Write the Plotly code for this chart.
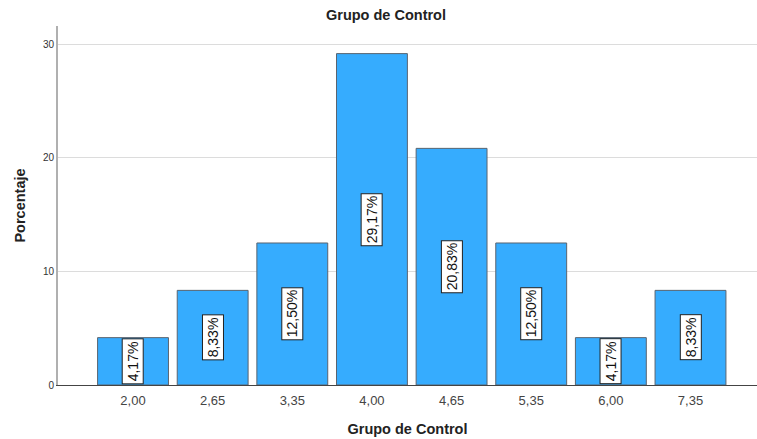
import plotly.graph_objects as go

categories = ["2,00", "2,65", "3,35", "4,00", "4,65", "5,35", "6,00", "7,35"]
percentages = [4.17, 8.33, 12.50, 29.17, 20.83, 12.50, 4.17, 8.33]
labels = ["4,17%", "8,33%", "12,50%", "29,17%", "20,83%", "12,50%", "4,17%", "8,33%"]
y_ticks = [0, 10, 20, 30]

FONT = "Liberation Sans, Arial"

fig = go.Figure()
fig.add_trace(go.Bar(
    x=list(range(len(categories))), y=percentages, width=0.89,
    marker=dict(color="#36acfe", line=dict(color="#5a6470", width=1)),
    hoverinfo="skip",
))

for i, (v, lab) in enumerate(zip(percentages, labels)):
    fig.add_annotation(
        x=i, y=v / 2, xref="x", yref="y", text=lab, showarrow=False,
        textangle=-90, font=dict(family=FONT, size=14, color="#111111"),
        bgcolor="white", bordercolor="#222222", borderwidth=1, borderpad=2,
    )

fig.update_layout(
    width=757, height=439,
    margin=dict(l=58, r=0, t=26, b=54, autoexpand=False),
    plot_bgcolor="white", paper_bgcolor="white",
    showlegend=False,
    title=dict(text="<b>Grupo de Control</b>", x=386 / 757, xanchor="center", xref="container",
               y=1 - 15 / 439, yref="container", yanchor="middle",
               font=dict(family=FONT, size=14.5, color="#222")),
    xaxis=dict(
        tickmode="array", tickvals=list(range(len(categories))), ticktext=categories,
        range=[-0.942, 7.835], showgrid=False, zeroline=False, automargin=False,
        showline=True, linecolor="#444444", linewidth=1, ticks="", ticklabelstandoff=3,
        tickfont=dict(family=FONT, size=13, color="#444"),
        title=dict(text="<b>Grupo de Control</b>", standoff=17,
                   font=dict(family=FONT, size=14.5, color="#222")),
    ),
    yaxis=dict(
        range=[0, 31.6], tickvals=y_ticks, showgrid=True, gridcolor="#dcdcdc", gridwidth=1,
        zeroline=False, showline=True, linecolor="#b0b0b0", linewidth=2, ticks="", automargin=False,
        tickfont=dict(family=FONT, size=10, color="#333"),
        title=dict(text="<b>Porcentaje</b>", standoff=14,
                   font=dict(family=FONT, size=14.5, color="#222")),
    ),
)
fig.write_html("out.html", config={"displayModeBar": False},
               post_script="document.body.style.margin='0';document.body.style.overflow='hidden';")
